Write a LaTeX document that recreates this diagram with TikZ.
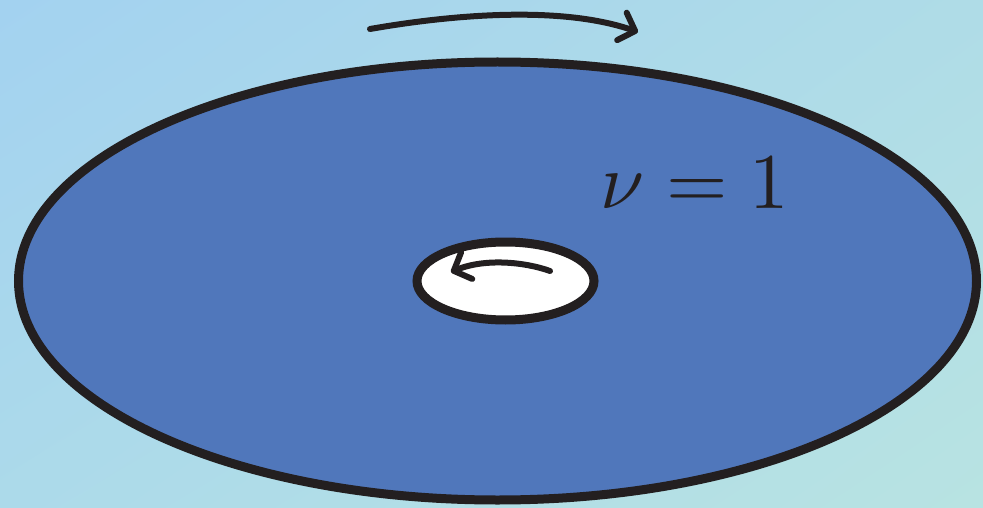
\documentclass[tikz,border=0pt]{standalone}
\usepackage{graphicx}
\usetikzlibrary{arrows.meta,shadings}
\definecolor{bgTL}{HTML}{A3D2F0}
\definecolor{bgTR}{HTML}{AFDCE7}
\definecolor{bgBL}{HTML}{ACDAEA}
\definecolor{bgBR}{HTML}{B8E3E2}
\definecolor{discblue}{HTML}{5077BB}
\definecolor{ink}{HTML}{231F20}
\tikzset{
  rim/.style={draw=ink, line width=9pt},
  spin/.style={draw=ink, line width=6pt, line cap=round,
    -{Straight Barb[length=14pt,width=29pt,line width=6pt,line cap=round, round]}},
}
\begin{document}
\begin{tikzpicture}[x=1pt,y=-1pt]
  \useasboundingbox (0,0) rectangle (983,508);
  \shade[upper left=bgTL, upper right=bgTR, lower left=bgBL, lower right=bgBR]
    (0,0) rectangle (983,508);
  \path[rim, fill=discblue] (497.5,281) ellipse [x radius=479, y radius=219];
  \path[rim, fill=white] (505.5,281) ellipse [x radius=88.5, y radius=39];
  \coordinate (topstart) at (370,29);
  \coordinate (topend) at (638,32);
  \draw[spin] (topstart) .. controls (450,15) and (560,5) .. (topend);
  \coordinate (instart) at (550,271);
  \coordinate (inend) at (451,272);
  \draw[spin] (instart) .. controls (525,262) and (485,258) .. (inend);
  \node[anchor=base, text=ink, inner sep=0pt] (nu) at (695,208)
    {\scalebox{7.9}{$\nu=1$}};
\end{tikzpicture}
\end{document}
